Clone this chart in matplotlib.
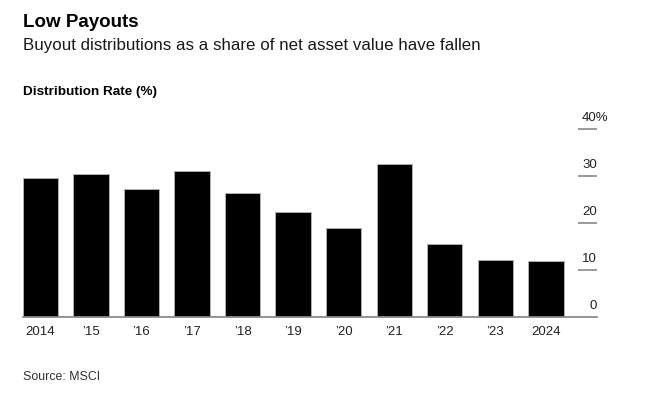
import matplotlib
matplotlib.use("Agg")
import matplotlib.pyplot as plt
import matplotlib.transforms as mtransforms

plt.rcParams["font.family"] = ["Liberation Sans", "DejaVu Sans"]

# data
years = ["2014", "’15", "’16", "’17", "’18", "’19", "’20", "’21", "’22", "’23", "2024"]
rates = [29.6, 30.5, 27.4, 31.1, 26.4, 22.3, 19.0, 32.6, 15.5, 12.2, 12.0]
y_ticks = [0, 10, 20, 30, 40]

fig = plt.figure(figsize=(6.70, 3.93), dpi=100)
fig.patch.set_facecolor("white")
ax = fig.add_axes([0.0339, 0.1926, 0.857, 0.4784])

x = list(range(len(years)))
ax.bar(x, rates, width=0.70, color="black", edgecolor="#b0b0b0", linewidth=0.7, zorder=2)

ax.set_xlim(-0.35, 11.01)
ax.set_ylim(0, 40)

for side in ["top", "right", "left"]:
    ax.spines[side].set_visible(False)
ax.spines["bottom"].set_color("#8a8a8a")
ax.spines["bottom"].set_linewidth(1.3)
ax.spines["bottom"].set_zorder(3)

ax.set_xticks(x)
ax.set_xticklabels(years)
ax.tick_params(axis="x", length=0, pad=6, labelsize=9.5, labelcolor="#222222")
ax.set_yticks([])

# right side ticks: short gray dashes with labels sitting above
blend = mtransforms.blended_transform_factory(ax.transAxes, ax.transData)
for v in y_ticks:
    if v > 0:
        ax.plot([0.967, 1.0], [v, v], transform=blend, color="#9a9a9a",
                linewidth=1.4, clip_on=False, solid_capstyle="butt")
    label = str(v)
    dx = 0
    if v == y_ticks[-1]:
        # the top label carries the % sign hanging past the right edge
        label += "%"
        dx = 8.4
    ax.annotate(label, xy=(1.0, v), xycoords=blend, xytext=(dx, 6.2),
                textcoords="offset points", ha="right", va="baseline",
                fontsize=9.5, color="#222222", annotation_clip=False)

fig.text(0.0339, 0.932, "Low Payouts", fontsize=13.5, fontweight="bold",
         color="black", va="baseline", ha="left")
fig.text(0.0339, 0.8728, "Buyout distributions as a share of net asset value have fallen",
         fontsize=12.2, color="#1a1a1a", va="baseline", ha="left")
fig.text(0.0339, 0.758, "Distribution Rate (%)", fontsize=9.7, fontweight="bold",
         color="black", va="baseline", ha="left")
fig.text(0.0339, 0.032, "Source: MSCI", fontsize=8.9, color="#333333",
         va="baseline", ha="left")

fig.savefig("out.png", dpi=100, facecolor="white")
